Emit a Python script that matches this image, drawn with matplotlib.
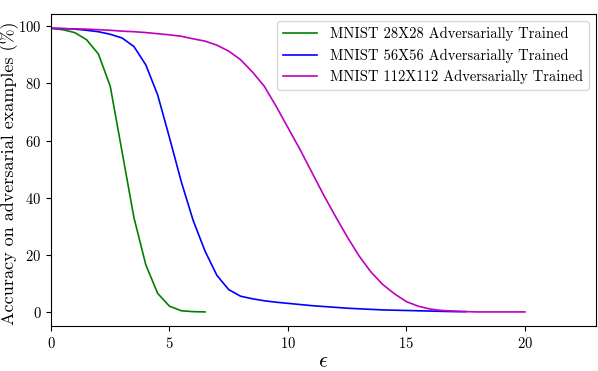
import matplotlib
matplotlib.use("Agg")
import matplotlib.pyplot as plt
import numpy as np

# Computer Modern look (LaTeX style)
matplotlib.rcParams['font.family'] = 'serif'
matplotlib.rcParams['font.serif'] = ['cmr10', 'DejaVu Serif']
matplotlib.rcParams['mathtext.fontset'] = 'cm'
matplotlib.rcParams['axes.formatter.use_mathtext'] = True
matplotlib.rcParams['axes.unicode_minus'] = False

# epsilon values
eps_28 = np.arange(0, 6.51, 0.5)
eps_56 = np.arange(0, 17.51, 0.5)
eps_112 = np.arange(0, 20.01, 0.5)

# accuracy (%) on adversarial examples
acc_28 = [99.3, 98.8, 97.8, 95.3, 90.3, 79.0, 56.0, 33.0, 16.5, 6.5, 2.0, 0.4, 0.1, 0.0]
acc_56 = [99.3, 99.2, 99.0, 98.6, 98.1, 97.2, 95.9, 92.9, 86.5, 76.0, 61.0, 45.5,
          32.0, 21.3, 12.8, 7.8, 5.5, 4.6, 3.9, 3.4, 3.0, 2.6, 2.2, 1.9, 1.6, 1.3,
          1.1, 0.9, 0.7, 0.6, 0.5, 0.4, 0.3, 0.2, 0.1, 0.1]
acc_112 = [99.3, 99.2, 99.1, 99.0, 98.8, 98.6, 98.3, 98.1, 97.8, 97.4, 97.0, 96.5,
           95.6, 94.8, 93.4, 91.3, 88.3, 84.0, 79.0, 72.0, 64.5, 57.0, 49.0, 41.0,
           33.5, 26.3, 19.6, 14.0, 9.6, 6.3, 3.6, 2.0, 1.0, 0.5, 0.3, 0.1, 0.0,
           0.0, 0.0, 0.0, 0.0]

labels = ['MNIST 28X28 Adversarially Trained',
          'MNIST 56X56 Adversarially Trained',
          'MNIST 112X112 Adversarially Trained']

fig = plt.figure(figsize=(5.98, 3.71), dpi=100)
ax = fig.add_axes([0.0853, 0.121, 0.9114, 0.841])

ax.plot(eps_28, acc_28, color='g', lw=1.2, label=labels[0])
ax.plot(eps_56, acc_56, color='b', lw=1.2, label=labels[1])
ax.plot(eps_112, acc_112, color='m', lw=1.2, label=labels[2])

ax.set_xlim(0, 23)
ax.set_xticks([0, 5, 10, 15, 20])
ax.set_yticks([0, 20, 40, 60, 80, 100])
ax.tick_params(labelsize=10.5)
ax.set_xlabel(r'$\epsilon$', fontsize=16)
ax.xaxis.set_label_coords(0.5, -0.083)
ax.set_ylabel('Accuracy on adversarial examples (%)', fontsize=13)
ax.yaxis.set_label_coords(-0.059, 0.49)
ax.legend(loc='upper right', fontsize=10.5, handlelength=2.35,
          handletextpad=0.9, edgecolor='#d0d0d0')

fig.savefig('out.png', dpi=100)
